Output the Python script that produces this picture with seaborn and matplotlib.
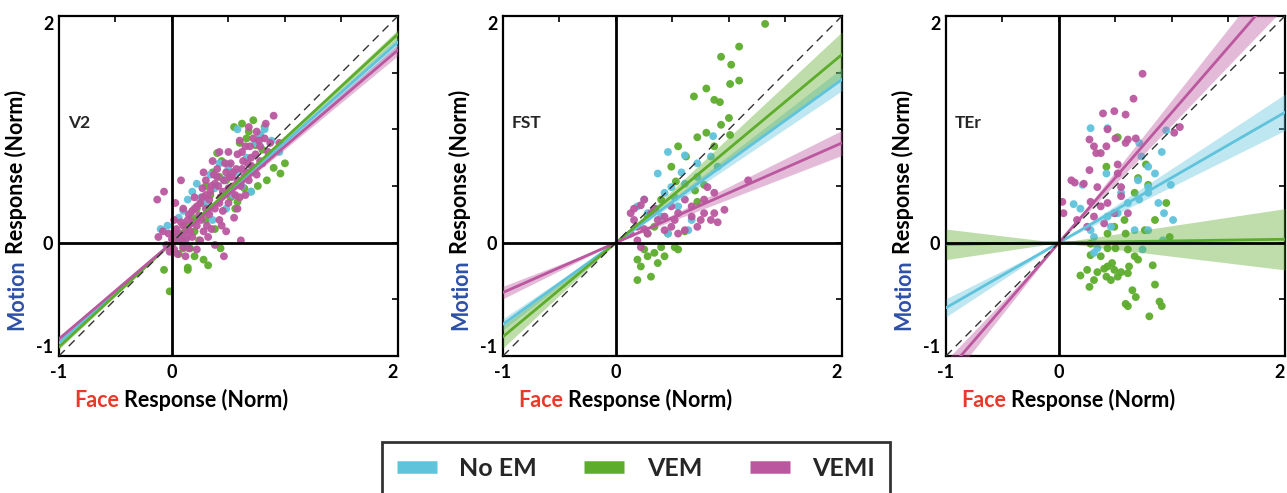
import matplotlib
matplotlib.use("Agg")
import matplotlib.pyplot as plt
import matplotlib.transforms as mtransforms
from matplotlib.lines import Line2D
import numpy as np
import pandas as pd
import seaborn as sns

# ---- data (Face response, Motion response; normalised) ----
conditions = ["No EM", "VEM", "VEMI"]
colors = {"No EM": "#5fc3dc", "VEM": "#5dac2c", "VEMI": "#bb579f"}
panel_names = ["V2", "FST", "TEr"]

# V2
v2_vem_x = [0.55, 0.62, 0.68, 0.72, 0.78, 0.82, 0.60, 0.66, 0.74, 0.40,
            0.44, 0.50, 0.36, 0.42, 0.96, 1.00, 0.88, 0.84, 0.70, 0.76,
            0.30, 0.34, 0.26, 0.22, 0.18, 0.48, 0.52, 0.58, 0.64, 0.12,
            0.08, 0.16, 0.20, 0.28, 0.32, 0.14, 0.10, -0.07, -0.02, 0.14,
            0.20, 0.43, 0.38, 0.24, 0.56, 0.80, 0.90, 0.06, 0.02, 0.30]
v2_vem_y = [1.02, 1.05, 0.98, 1.08, 0.95, 1.02, 0.88, 0.92, 0.86, 0.79,
            0.72, 0.68, 0.62, 0.58, 0.61, 0.70, 0.78, 0.55, 0.45, 0.50,
            0.50, 0.42, 0.35, 0.30, 0.22, 0.55, 0.40, 0.36, 0.48, 0.15,
            0.08, -0.05, -0.12, -0.15, -0.20, -0.22, -0.05, -0.24, -0.43, -0.24,
            0.10, -0.05, 0.12, 0.02, 0.30, 0.82, 0.66, -0.10, 0.02, 0.20]
v2_noem_x = [-0.10, -0.04, 0.02, 0.06, 0.10, 0.14, 0.18, 0.22, 0.26, 0.30,
             0.34, 0.38, 0.42, 0.46, 0.50, 0.54, 0.58, 0.62, 0.66, 0.70,
             0.74, 0.78, 0.82, 0.88, 0.95, 0.48, 0.36, 0.12, 0.58, 0.70]
v2_noem_y = [0.12, 0.15, 0.08, 0.22, 0.28, 0.38, 0.45, 0.52, 0.40, 0.35,
             0.60, 0.48, 0.70, 0.55, 0.65, 0.42, 0.62, 0.50, 0.75, 0.62,
             0.88, 0.95, 1.00, 0.90, 0.80, 0.30, 0.20, 0.02, 1.00, 0.45]
v2_vemi_x = [-0.12, -0.08, -0.05, -0.03, 0.00, 0.02, 0.04, 0.06, 0.08, 0.10,
             0.12, 0.15, 0.18, 0.20, 0.22, 0.25, 0.28, 0.30, 0.33, 0.35,
             0.38, 0.40, 0.42, 0.45, 0.48, 0.50, 0.52, 0.55, 0.58, 0.60,
             0.62, 0.65, 0.68, 0.70, 0.72, 0.75, 0.78, 0.80, 0.85, 0.90,
             0.95, -0.13, -0.07, 0.08, 0.61, 0.46, 0.05, 0.15, 0.25, 0.35,
             0.45, 0.55, 0.65, 0.75, 0.30, 0.40, 0.50, 0.60, 0.20, 0.10,
             0.02, -0.02, 0.03, 0.07, 0.12, 0.18, 0.24, 0.33, 0.43, 0.53,
             0.63, 0.73, 0.83, 0.38, 0.48, 0.58, 0.68, 0.36, 0.16, 0.87,
             0.42, 0.28, 0.22, 0.05, 0.10, 0.14, 0.18, 0.22, 0.26, 0.30,
             0.34, 0.38, 0.42, 0.46, 0.50, 0.54, 0.58, 0.62, 0.66, 0.70,
             0.74, 0.78, 0.82, 0.00, 0.04, 0.09, 0.13, 0.27, 0.31, 0.37,
             0.41, 0.47, 0.51, 0.57, 0.64, 0.69, 0.77, 0.27, 0.44, 0.56,
             0.67, 0.32, 0.61]
v2_vemi_y = [0.05, 0.10, -0.02, 0.08, 0.03, -0.06, 0.12, 0.02, 0.18, -0.04,
             0.10, 0.25, 0.05, 0.30, 0.15, 0.35, 0.10, 0.42, 0.25, 0.50,
             0.30, 0.58, 0.20, 0.45, 0.62, 0.35, 0.70, 0.50, 0.78, 0.40,
             0.65, 0.85, 0.55, 0.75, 0.92, 0.60, 0.85, 0.70, 0.80, 1.12,
             0.88, 0.38, 0.45, 0.55, 0.02, -0.12, -0.10, -0.05, 0.02, 0.12,
             0.28, 0.22, 0.42, 0.98, 0.55, 0.65, 0.80, 0.90, 0.40, 0.30,
             0.20, -0.08, 0.35, 0.05, -0.12, 0.18, 0.24, 0.38, 0.40, 0.58,
             0.72, 0.66, 1.05, -0.02, 0.10, 0.30, 1.02, 0.72, 0.10, 0.88,
             0.80, 0.62, -0.06, 0.08, 0.15, 0.20, 0.28, 0.32, 0.20, 0.30,
             0.45, 0.52, 0.35, 0.55, 0.48, 0.62, 0.55, 0.80, 0.62, 0.68,
             0.78, 0.72, 0.92, -0.02, 0.05, 0.00, 0.04, 0.48, 0.15, 0.60,
             0.50, 0.70, 0.58, 0.65, 0.58, 0.85, 0.90, 0.40, 0.15, 0.42,
             0.70, 0.05, 0.50]

# FST
fst_vem_x = [1.32, 1.09, 0.93, 1.02, 1.09, 0.80, 0.69, 0.87, 0.92, 1.00,
             0.93, 0.72, 0.80, 1.01, 0.87, 0.55, 0.62, 0.49, 0.53, 0.70,
             0.78, 0.72, 0.40, 0.28, 0.46, 0.55, 0.52, 0.25, 0.28, 0.34,
             0.19, 0.37, 0.22, 0.31, 0.19, 0.43, 0.40, 0.61, 0.28, 0.34,
             1.01]
fst_vem_y = [1.93, 1.73, 1.64, 1.57, 1.43, 1.36, 1.29, 1.26, 1.24, 1.10,
             1.04, 0.93, 0.97, 0.95, 0.85, 0.85, 0.76, 0.67, 0.54, 0.46,
             0.51, 0.36, 0.38, 0.23, 0.08, -0.06, -0.04, -0.06, -0.12, -0.09,
             -0.15, -0.18, -0.21, -0.30, -0.33, -0.12, -0.04, 0.10, 0.08, 0.14,
             1.40]
fst_noem_x = [0.46, 0.61, 0.72, 0.86, 0.37, 0.49, 0.43, 0.61, 0.72, 0.28,
              0.40, 0.55, 0.64, 0.67, 0.46, 0.25, 0.19, 0.84, 0.90, 0.52,
              0.58, 0.35]
fst_noem_y = [0.80, 0.77, 0.70, 0.94, 0.61, 0.49, 0.44, 0.52, 0.58, 0.26,
              0.23, 0.32, 0.11, 0.20, 0.08, 0.38, 0.32, 0.76, 0.67, 0.40,
              0.62, 0.30]
fst_vemi_x = [0.13, 0.16, 0.25, 0.19, 0.22, 0.28, 0.37, 0.43, 0.49, 0.55,
              0.61, 0.67, 0.72, 0.78, 0.84, 0.87, 0.96, 0.81, 0.87, 0.78,
              1.17, 0.61, 0.55, 0.31, 0.13, 0.19, 0.67, 0.43, 0.49, 0.22,
              0.34, 0.52, 0.75, 0.90, 0.16, 0.25]
fst_vemi_y = [0.26, 0.20, 0.38, 0.14, -0.04, 0.08, 0.20, 0.11, 0.32, 0.26,
              0.38, 0.23, 0.14, 0.26, 0.20, 0.26, 0.29, 0.49, 0.44, 0.38,
              0.55, 0.11, 0.08, 0.26, 0.08, 0.02, 0.32, 0.23, 0.14, 0.33,
              0.30, 0.20, 0.20, 0.18, 0.30, 0.12]

# TEr
ter_vem_x = [0.52, 0.42, 0.77, 0.70, 0.79, 0.95, 0.85, 0.50, 0.58, 0.67,
             0.49, 0.43, 0.59, 0.76, 0.98, 0.28, 0.43, 0.50, 0.28, 0.37,
             0.47, 0.61, 0.67, 0.70, 0.83, 0.19, 0.25, 0.34, 0.43, 0.49,
             0.52, 0.55, 0.61, 0.42, 0.46, 0.31, 0.27, 0.85, 0.65, 0.68,
             0.59, 0.61, 0.89, 0.91, 0.80, 0.40, 0.62]
ter_vem_y = [0.93, 0.67, 0.69, 0.57, 0.51, 0.35, 0.20, 0.26, 0.20, 0.44,
             0.14, 0.08, 0.08, 0.11, 0.05, -0.01, -0.05, -0.05, -0.11, -0.12,
             -0.18, -0.06, -0.12, -0.15, -0.20, -0.29, -0.24, -0.26, -0.21, -0.24,
             -0.30, -0.26, -0.27, -0.30, -0.33, -0.33, -0.39, -0.37, -0.42, -0.48,
             -0.54, -0.56, -0.52, -0.56, -0.65, -0.23, -0.21]
ter_noem_x = [0.28, 0.43, 0.71, 0.95, 0.91, 0.73, 0.70, 0.79, 0.99, 0.13,
              0.21, 0.42, 0.55, 0.61, 0.71, 0.79, 0.88, 0.93, 1.01, 0.79,
              0.67, 0.46, 0.31, 0.34, 0.31, 0.74, 0.52, 0.43, 0.28, 0.19,
              0.79, 0.85, 0.92]
ter_noem_y = [1.01, 1.01, 0.88, 0.99, 0.80, 0.76, 0.55, 0.67, 0.51, 0.34,
              0.51, 0.61, 0.44, 0.35, 0.38, 0.44, 0.35, 0.26, 0.20, 0.11,
              0.11, 0.14, 0.05, -0.05, -0.09, -0.06, 0.26, 0.23, 0.11, 0.30,
              0.49, 0.61, 0.02]
ter_vemi_x = [0.74, 0.66, 0.49, 0.39, 0.59, 0.43, 0.27, 0.31, 0.42, 0.50,
              0.61, 0.68, 0.59, 0.33, 0.37, 0.52, 0.27, 0.11, 0.14, 0.22,
              0.34, 0.03, 0.28, 0.37, 0.43, 0.49, 0.55, 0.61, 0.16, 0.31,
              0.40, 1.07, 1.02, 0.04, 0.25, 0.55, 0.52]
ter_vemi_y = [1.49, 1.27, 1.16, 1.14, 1.13, 1.00, 0.91, 0.85, 0.85, 0.92,
              0.91, 0.92, 0.88, 0.79, 0.79, 0.69, 0.64, 0.55, 0.53, 0.52,
              0.49, 0.36, 0.36, 0.32, 0.35, 0.26, 0.41, 0.26, 0.20, 0.23,
              0.17, 1.02, 0.97, 0.26, 0.14, 0.49, 0.61]

# regression through origin: slope and half-width of the band (per unit x),
# ordered as conditions (No EM, VEM, VEMI)
v2_slopes = [0.885, 0.92, 0.85]
v2_ci = [0.02, 0.02, 0.025]
fst_slopes = [0.72, 0.83, 0.44]
fst_ci = [0.05, 0.10, 0.055]
ter_slopes = [0.575, 0.015, 1.15]
ter_ci = [0.08, 0.135, 0.11]

tick_positions = [-1, -0.5, 0, 0.5, 1, 1.5, 2]
tick_labels = ["-1", "", "0", "", "", "", "2"]

panels = {
    "V2": ({"VEM": (v2_vem_x, v2_vem_y), "No EM": (v2_noem_x, v2_noem_y),
            "VEMI": (v2_vemi_x, v2_vemi_y)}, v2_slopes, v2_ci),
    "FST": ({"VEM": (fst_vem_x, fst_vem_y), "No EM": (fst_noem_x, fst_noem_y),
             "VEMI": (fst_vemi_x, fst_vemi_y)}, fst_slopes, fst_ci),
    "TEr": ({"VEM": (ter_vem_x, ter_vem_y), "No EM": (ter_noem_x, ter_noem_y),
             "VEMI": (ter_vemi_x, ter_vemi_y)}, ter_slopes, ter_ci),
}

sns.set_style("white")
plt.rcParams["font.family"] = ["Lato", "DejaVu Sans"]

DPI = 100
fig = plt.figure(figsize=(12.87, 4.93), dpi=DPI)
lefts = [0.0458, 0.3908, 0.7350]
W, B, H = 0.2634, 0.2779, 0.6897


def two_tone(ax, x, y, first, rest, color, vertical=False, size=15.5):
    """Write a label whose first word has its own colour."""
    rot = 90 if vertical else 0
    kw = dict(rotation=rot, rotation_mode="anchor", ha="left", va="baseline",
              fontsize=size, fontweight="bold", clip_on=False)
    t = ax.text(x, y, first, color=color, transform=ax.transAxes, **kw)
    bb = t.get_window_extent(renderer=fig.canvas.get_renderer())
    gap = 0.26 * size * DPI / 72
    if vertical:
        tr = mtransforms.offset_copy(ax.transAxes, fig=fig, x=0, y=bb.height + gap, units="dots")
    else:
        tr = mtransforms.offset_copy(ax.transAxes, fig=fig, x=bb.width + gap, y=0, units="dots")
    ax.text(x, y, rest, color="black", transform=tr, **kw)


line_x = np.array([-1.0, 2.0])

for i, name in enumerate(panel_names):
    ax = fig.add_axes([lefts[i], B, W, H])
    pts, slopes, cis = panels[name]

    frames = []
    for cond in ["VEM", "No EM", "VEMI"]:
        xs, ys = pts[cond]
        frames.append(pd.DataFrame({"face": xs, "motion": ys, "cond": cond}))
    df = pd.concat(frames, ignore_index=True)
    sns.scatterplot(data=df, x="face", y="motion", hue="cond", palette=colors,
                    s=32, linewidth=0, alpha=0.95, legend=False, ax=ax, zorder=2)

    for cond, s, c in zip(conditions, slopes, cis):
        ax.fill_between(line_x, (s - c) * line_x, (s + c) * line_x,
                        color=colors[cond], alpha=0.4, linewidth=0, zorder=3)
    for cond, s in zip(conditions, slopes):
        ax.plot(line_x, s * line_x, color=colors[cond], lw=2, zorder=4)

    ax.plot([-1, 2], [-1, 2], color="#333333", lw=1, dashes=(6, 4), zorder=5)
    ax.axhline(0, color="black", lw=2, zorder=6)
    ax.axvline(0, color="black", lw=2, zorder=6)

    ax.set_xlim(-1, 2)
    ax.set_ylim(-1, 2)
    ax.set_xticks(tick_positions)
    ax.set_yticks(tick_positions)
    ax.set_xticklabels(tick_labels, fontsize=13, fontweight="bold")
    ax.set_yticklabels(tick_labels, fontsize=13, fontweight="bold")
    ax.tick_params(direction="in", length=4, width=1.2, top=True, right=True,
                   color="black", labelcolor="black")
    ax.tick_params(axis="x", pad=6)
    ax.tick_params(axis="y", pad=4)
    # end labels sit just inside the axis corners, as in the original
    ax.get_xticklabels()[-1].set_ha("right")
    ax.get_yticklabels()[-1].set_va("top")
    ax.get_yticklabels()[0].set_va("bottom")
    for sp in ax.spines.values():
        sp.set_color("black")
        sp.set_linewidth(1.6)
    ax.set_xlabel("")
    ax.set_ylabel("")

    ax.text(-0.92, 1.06, name, fontsize=12.5, fontweight="bold", va="center", ha="left")

    two_tone(ax, 0.044, -0.15, "Face", "Response (Norm)", "#e8392a")
    two_tone(ax, -0.105, 0.076, "Motion", "Response (Norm)", "#2e4fa8", vertical=True)

handles = [Line2D([0], [0], color=colors[c], lw=9, solid_capstyle="butt") for c in conditions]
leg = fig.legend(handles, conditions, loc="upper center", bbox_to_anchor=(0.494, 0.104),
                 ncol=3, frameon=True, fancybox=False, edgecolor="black",
                 handlelength=1.6, handletextpad=0.9, columnspacing=1.9, borderpad=0.6,
                 borderaxespad=0, prop={"weight": "bold", "size": 18})
leg.get_frame().set_linewidth(2)

fig.savefig("out.png", dpi=DPI)
